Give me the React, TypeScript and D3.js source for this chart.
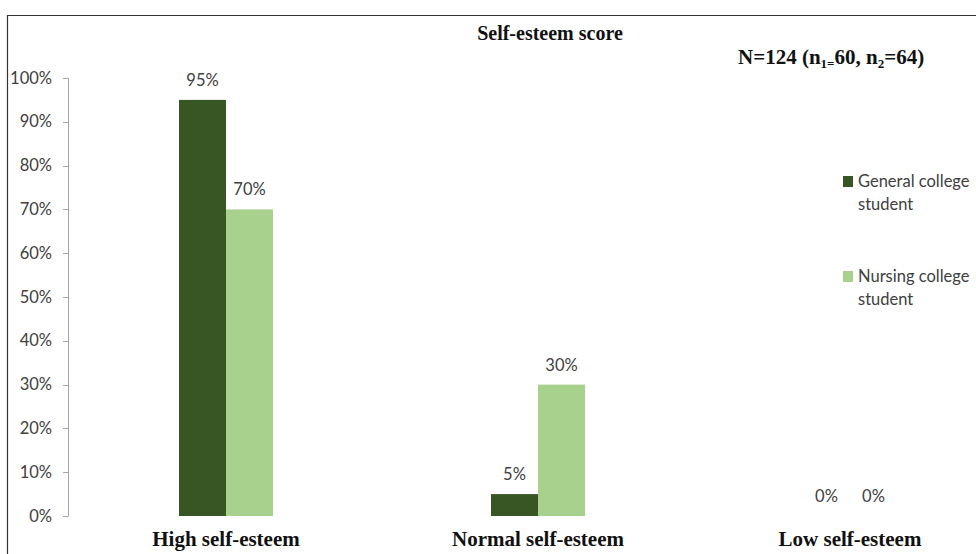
import { scaleBand, scaleLinear } from 'd3';

const CATEGORIES = ['High self-esteem', 'Normal self-esteem', 'Low self-esteem'];
const SERIES = ['General college student', 'Nursing college student'];
const GENERAL = [0.95, 0.05, 0];
const NURSING = [0.7, 0.3, 0];
const Y_TICKS = [0, 0.1, 0.2, 0.3, 0.4, 0.5, 0.6, 0.7, 0.8, 0.9, 1];

const W = 976;
const H = 554;
const COLORS = ['#375623', '#a9d18e'];
const SANS = 'Lato, Calibri, "Open Sans", sans-serif';
const SERIF = '"Liberation Serif", "Times New Roman", serif';

const LEGEND_LINES = [
  ['General college', 'student'],
  ['Nursing college', 'student'],
];

export default function App() {
  const x = scaleBand<string>().domain(CATEGORIES).range([70, 1006]);
  const y = scaleLinear().domain([0, 1]).range([516, 78]);
  const inner = scaleBand<number>().domain([0, 1]).range([0, 94]);
  const bw = inner.bandwidth();
  const values = [GENERAL, NURSING];
  const pct = (v: number) => `${Math.round(v * 100)}%`;

  return (
    <svg
      width={W}
      height={H}
      style={{ position: 'fixed', left: 0, top: 0, background: '#fff' }}
    >
      {/* frame */}
      <line x1={7} y1={15.5} x2={W} y2={15.5} stroke="#333" strokeWidth={1.2} />
      <line x1={7.5} y1={15} x2={7.5} y2={H} stroke="#333" strokeWidth={1.2} />

      <text x={550} y={40} textAnchor="middle" fontFamily={SERIF} fontWeight="bold" fontSize={20} fill="#111">
        Self-esteem score
      </text>
      <text x={738} y={64} fontFamily={SERIF} fontWeight="bold" fontSize={21} fill="#111">
        N=124 (n<tspan fontSize={13} dy={4}>1=</tspan>
        <tspan dy={-4}>60, n</tspan>
        <tspan fontSize={13} dy={4}>2</tspan>
        <tspan dy={-4}>=64)</tspan>
      </text>

      {/* y axis */}
      <line x1={68.5} y1={y(1)} x2={68.5} y2={y(0)} stroke="#a6a6a6" />
      {Y_TICKS.map((t) => (
        <g key={t}>
          <line x1={63} x2={68.5} y1={Math.round(y(t)) + 0.5} y2={Math.round(y(t)) + 0.5} stroke="#a6a6a6" />
          <text x={52} y={y(t) + 5.5} textAnchor="end" fontFamily={SANS} fontSize={16.5} fill="#404040">
            {pct(t)}
          </text>
        </g>
      ))}

      {/* bars */}
      {CATEGORIES.map((c) => {
        const cx = (x(c) ?? 0) + x.bandwidth() / 2 - 47;
        const ci = CATEGORIES.indexOf(c);
        return (
          <g key={c}>
            {values.map((vals, si) => (
              <g key={si}>
                <rect
                  x={cx + (inner(si) ?? 0)}
                  y={y(vals[ci])}
                  width={bw}
                  height={y(0) - y(vals[ci])}
                  fill={COLORS[si]}
                />
                <text
                  x={cx + (inner(si) ?? 0) + bw / 2}
                  y={y(vals[ci]) - 14}
                  textAnchor="middle"
                  fontFamily={SANS}
                  fontSize={16.5}
                  fill="#404040"
                >
                  {pct(vals[ci])}
                </text>
              </g>
            ))}
            <text
              x={cx + 47}
              y={546}
              textAnchor="middle"
              fontFamily={SERIF}
              fontWeight="bold"
              fontSize={21}
              fill="#111"
            >
              {c}
            </text>
          </g>
        );
      })}

      {/* legend */}
      {SERIES.map((s, i) => (
        <g key={s}>
          <rect x={843} y={176 + i * 95} width={10} height={11} fill={COLORS[i]} />
          <text fontFamily={SANS} fontSize={16.5} fill="#404040">
            <tspan x={858} y={187 + i * 95}>{LEGEND_LINES[i][0]}</tspan>
            <tspan x={858} y={210 + i * 95}>{LEGEND_LINES[i][1]}</tspan>
          </text>
        </g>
      ))}
    </svg>
  );
}
